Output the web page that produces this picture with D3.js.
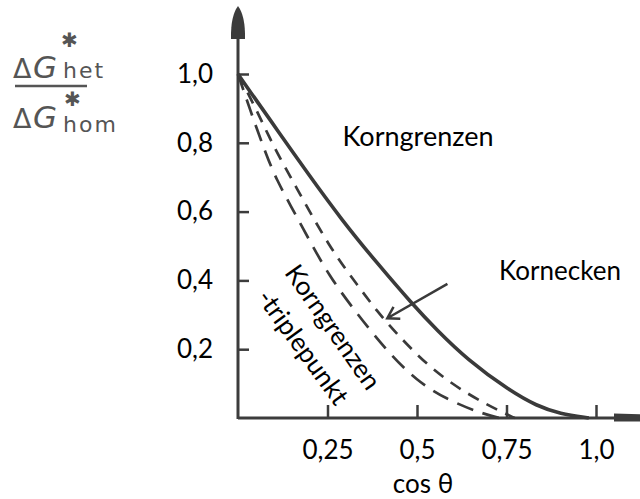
<!DOCTYPE html>
<html>
<head>
<meta charset="utf-8">
<script src="https://cdn.jsdelivr.net/npm/d3@7"></script>
<style>
	html, body { margin: 0; padding: 0; background: #fff; }
	svg { display: block; }
	.lbl { font-family: Lato, 'Open Sans', sans-serif; fill: #000; }
	.ylab text { font-family: 'DejaVu Sans', sans-serif; fill: #555; }
</style>
</head>
<body>
<div id="chart"></div>
<script>
// values (x = cos theta, y = dG*het / dG*hom)
var grainX  = [0, 0.025, 0.12, 0.19, 0.291, 0.387, 0.487, 0.555, 0.639, 0.759, 0.835, 0.899, 0.98];
var grainY  = [1.0, 0.962, 0.822, 0.718, 0.574, 0.452, 0.331, 0.256, 0.171, 0.079, 0.035, 0.012, 0];
var tripleX = [0, 0.031, 0.081, 0.109, 0.143, 0.207, 0.255, 0.311, 0.415, 0.499, 0.583, 0.675, 0.73];
var tripleY = [1.0, 0.904, 0.758, 0.691, 0.625, 0.502, 0.414, 0.332, 0.195, 0.108, 0.054, 0.015, 0];
var cornerX = [0, 0.05, 0.10, 0.157, 0.255, 0.339, 0.387, 0.443, 0.535, 0.639, 0.731, 0.773];
var cornerY = [1.0, 0.90, 0.787, 0.682, 0.496, 0.379, 0.312, 0.245, 0.146, 0.07, 0.02, 0];

var xTicks = [0.25, 0.5, 0.75, 1.0];
var xTickLabels = ['0,25', '0,5', '0,75', '1,0'];
var yTicks = [0.2, 0.4, 0.6, 0.8, 1.0];
var yTickLabels = ['0,2', '0,4', '0,6', '0,8', '1,0'];

// arrow to the corner curve, in data units: [from, to]
var cornerArrow = [[0.585, 0.39], [0.417, 0.29]];

var Chart = {

	init: function() {
		var svg = d3.select('#chart').append('svg')
			.attr('width', 640)
			.attr('height', 499);

		var x = d3.scaleLinear().domain([0, 1]).range([238, 596]),
			y = d3.scaleLinear().domain([0, 1]).range([418, 74]);

		Chart.drawAxes(svg, x, y);
		Chart.drawCurves(svg, x, y);
		Chart.drawLabels(svg, x, y);
	},

	drawAxes: function(svg, x, y) {
		var ink = '#3c3c3c';

		// main axis lines with their arrow heads
		svg.append('line')
			.attr('x1', x(0)).attr('x2', 640)
			.attr('y1', y(0)).attr('y2', y(0))
			.style('stroke', ink).style('stroke-width', 3);
		svg.append('line')
			.attr('x1', x(0)).attr('x2', x(0))
			.attr('y1', y(0) + 1).attr('y2', 30)
			.style('stroke', ink).style('stroke-width', 3);

		svg.append('path')
			.attr('d', 'M' + x(0) + ',6 Q' + (x(0) + 7.5) + ',16 ' + (x(0) + 7) + ',39 L' + (x(0) - 7) + ',39 Q' + (x(0) - 7.5) + ',16 ' + x(0) + ',6 Z')
			.style('fill', ink);
		svg.append('path')
			.attr('d', 'M614,413.5 L646,414.5 L646,421.5 L614,421.5 Z')
			.style('fill', ink);

		var ax = svg.append('g')
			.attr('transform', 'translate(0,' + y(0) + ')')
			.call(d3.axisBottom(x)
				.tickValues(xTicks)
				.tickFormat(function(d, i) { return xTickLabels[i]; })
				.tickSizeInner(-13)
				.tickSizeOuter(0)
				.tickPadding(23));
		ax.select('.domain').remove();
		ax.selectAll('.tick line').style('stroke', ink).style('stroke-width', 2.5);
		ax.selectAll('.tick text').attr('class', 'lbl').style('font-size', '26px');

		var ay = svg.append('g')
			.attr('transform', 'translate(' + x(0) + ',0)')
			.call(d3.axisLeft(y)
				.tickValues(yTicks)
				.tickFormat(function(d, i) { return yTickLabels[i]; })
				.tickSizeInner(-11)
				.tickSizeOuter(0)
				.tickPadding(25));
		ay.select('.domain').remove();
		ay.selectAll('.tick line').style('stroke', ink).style('stroke-width', 2.5);
		ay.selectAll('.tick text').attr('class', 'lbl').style('font-size', '26px');
	},

	drawCurves: function(svg, x, y) {
		var line = d3.line()
			.x(function(d) { return x(d[0]); })
			.y(function(d) { return y(d[1]); })
			.curve(d3.curveBasis);

		var series = [
			{xs: tripleX, ys: tripleY, dash: '17,10', w: 2.7},
			{xs: cornerX, ys: cornerY, dash: '12,9', w: 2.7},
			{xs: grainX, ys: grainY, dash: null, w: 3.6}
		];

		svg.selectAll('path.curve')
			.data(series)
			.enter()
			.append('path')
			.attr('class', 'curve')
			.attr('d', function(s) {
				return line(d3.zip(s.xs, s.ys));
			})
			.style('fill', 'none')
			.style('stroke', '#3a3a3a')
			.style('stroke-width', function(s) { return s.w; })
			.style('stroke-dasharray', function(s) { return s.dash; })
			.style('stroke-linecap', 'butt');

		// arrow pointing at the corner curve
		var p0 = [x(cornerArrow[0][0]), y(cornerArrow[0][1])],
			p1 = [x(cornerArrow[1][0]), y(cornerArrow[1][1])],
			ang = Math.atan2(p0[1] - p1[1], p0[0] - p1[0]),
			len = 13, spread = 0.55;

		svg.append('path')
			.attr('d', 'M' + p0 + 'L' + p1 +
				'M' + [p1[0] + len * Math.cos(ang - spread), p1[1] + len * Math.sin(ang - spread)] +
				'L' + p1 +
				'L' + [p1[0] + len * Math.cos(ang + spread), p1[1] + len * Math.sin(ang + spread)])
			.style('fill', 'none')
			.style('stroke', '#3a3a3a')
			.style('stroke-width', 2.5);
	},

	drawLabels: function(svg, x, y) {
		svg.append('text').attr('class', 'lbl')
			.attr('x', 418).attr('y', 146)
			.attr('text-anchor', 'middle')
			.style('font-size', '27px')
			.text('Korngrenzen');

		svg.append('text').attr('class', 'lbl')
			.attr('x', 560).attr('y', 280)
			.attr('text-anchor', 'middle')
			.style('font-size', '26px')
			.text('Kornecken');

		svg.append('text').attr('class', 'lbl')
			.attr('x', 423).attr('y', 493)
			.attr('text-anchor', 'middle')
			.style('font-size', '26px')
			.text('cos \u03b8');

		svg.append('text').attr('class', 'lbl')
			.attr('transform', 'translate(333,327) rotate(55)')
			.attr('text-anchor', 'middle')
			.attr('dy', '0.35em')
			.style('font-size', '26px')
			.text('Korngrenzen');

		svg.append('text').attr('class', 'lbl')
			.attr('transform', 'translate(303,347) rotate(54)')
			.attr('text-anchor', 'middle')
			.attr('dy', '0.35em')
			.style('font-size', '26px')
			.text('-triplepunkt');

		// the fraction used as y axis title
		var frac = svg.append('g').attr('class', 'ylab');
		[[78, 'het'], [128, 'hom']].forEach(function(row, i) {
			frac.append('text').attr('x', 13).attr('y', row[0])
				.style('font-size', '27px').text('\u0394');
			frac.append('text').attr('x', 33).attr('y', row[0])
				.style('font-size', '31px').style('font-style', 'italic').text('G');
			frac.append('text').attr('x', 63).attr('y', row[0] + (i ? 4 : 0))
				.style('font-size', '22px').style('letter-spacing', '2px').text(row[1]);
			frac.append('text').attr('x', 61 + i * 3).attr('y', row[0] - 31 + i * 9)
				.style('font-size', '20px').style('font-weight', 'bold').text('\u2731');
		});
		frac.append('line')
			.attr('x1', 15).attr('x2', 87)
			.attr('y1', 86).attr('y2', 86)
			.style('stroke', '#555').style('stroke-width', 2.5);
	}
};

Chart.init();
</script>
</body>
</html>
